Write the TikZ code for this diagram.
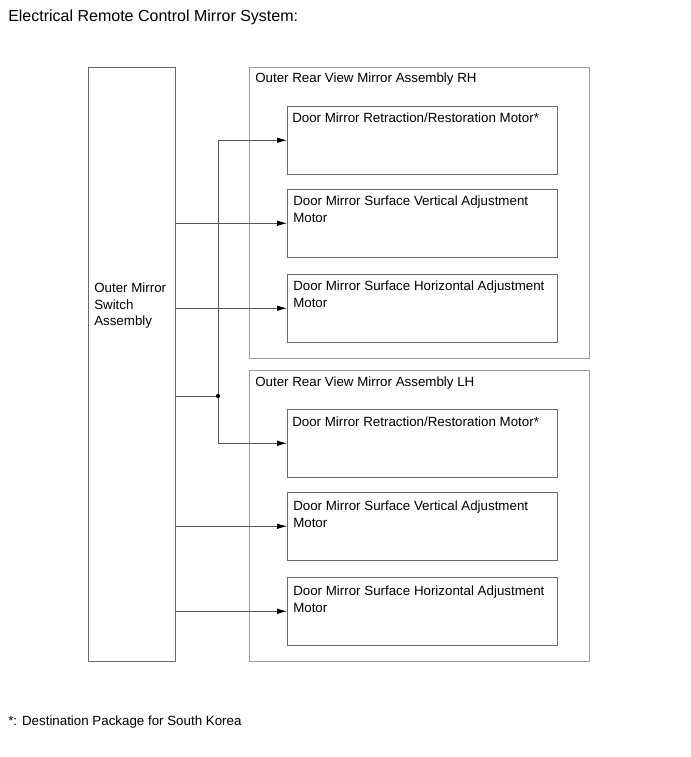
\documentclass[tikz,border=0pt]{standalone}
\usepackage{fontspec}
\setmainfont{Liberation Sans}
\usepackage{tikz}
\usetikzlibrary{arrows.meta,positioning,calc}
\definecolor{mirline}{HTML}{6A6A6A}
\definecolor{mirgroup}{HTML}{9C9C9C}
\definecolor{mirwire}{HTML}{555555}

\begin{document}
\begin{tikzpicture}[x=0.75pt, y=-0.75pt, font=\fontsize{10}{12.2}\selectfont,
    motor/.style={draw=mirline, anchor=north west, inner sep=0pt, minimum width=202.5pt, minimum height=51pt},
    grp/.style={draw=mirgroup, anchor=north west, inner sep=0pt, minimum width=255pt, minimum height=218.25pt},
    txt/.style={anchor=north west, inner sep=0pt, align=left},
    wire/.style={draw=mirwire, line width=0.6pt},
    feed/.style={wire, -{Latex[length=7.5pt,width=4.2pt,color=black]}}]
  \useasboundingbox (0,0) rectangle (690,757);

  \node[txt] (title) at (8,10) {\fontsize{12}{14}\selectfont Electrical Remote Control Mirror System:};

  % switch
  \node[draw=mirline, anchor=north west, inner sep=0pt, minimum width=65.25pt, minimum height=445.5pt]
    (sw) at (88,67) {};
  \node[txt] (swtxt) at (94,283) {Outer Mirror\\Switch\\Assembly};

  % RH mirror
  \node[grp] (rhgrp) at (249,67) {};
  \node[txt] (rhtxt) at ($(rhgrp.north west)+(6,6)$) {Outer Rear View Mirror Assembly RH};
  \node[motor] (rhret) at (287,106) {};
  \node[motor] (rhver) at (287,189) {};
  \node[motor] (rhhor) at (287,274) {};
  \node[txt] at ($(rhret.north west)+(5,7)$) {Door Mirror Retraction/Restoration Motor*};
  \node[txt] at ($(rhver.north west)+(6,7)$) {Door Mirror Surface Vertical Adjustment\\Motor};
  \node[txt] at ($(rhhor.north west)+(6,7)$) {Door Mirror Surface Horizontal Adjustment\\Motor};

  % LH mirror
  \node[grp] (lhgrp) at (249,370) {};
  \node[txt] (lhtxt) at ($(lhgrp.north west)+(6,7)$) {Outer Rear View Mirror Assembly LH};
  \node[motor] (lhret) at (287,409) {};
  \node[motor] (lhver) at (287,492) {};
  \node[motor] (lhhor) at (287,577) {};
  \node[txt] at ($(lhret.north west)+(5,8)$) {Door Mirror Retraction/Restoration Motor*};
  \node[txt] at ($(lhver.north west)+(6,9)$) {Door Mirror Surface Vertical Adjustment\\Motor};
  \node[txt] at ($(lhhor.north west)+(6,9)$) {Door Mirror Surface Horizontal Adjustment\\Motor};

  % wiring
  \draw[feed] (sw.east |- rhver.west) -- (rhver.west);
  \draw[feed] (sw.east |- rhhor.west) -- (rhhor.west);
  \draw[feed] (sw.east |- lhver.west) -- (lhver.west);
  \draw[feed] (sw.east |- lhhor.west) -- (lhhor.west);
  \coordinate (jn) at (218,396);
  \draw[wire] (sw.east |- jn) -- (jn);
  \draw[feed] (jn) |- (rhret.west);
  \draw[feed] (jn) |- (lhret.west);
  \fill[black] (jn) circle (1.6pt);

  \node[txt] (note) at (8,716) {*: Destination Package for South Korea};
\end{tikzpicture}
\end{document}
